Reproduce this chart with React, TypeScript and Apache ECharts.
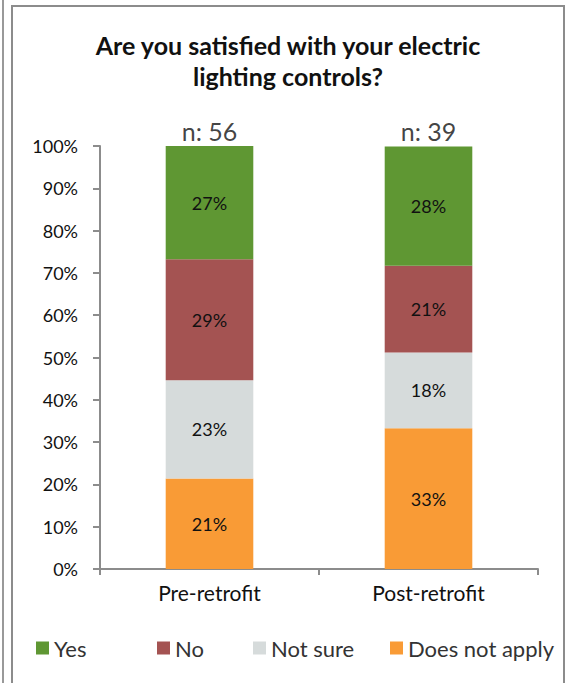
import React, { useEffect, useRef } from "react";
import * as echarts from "echarts";

const categories = ["Pre-retrofit", "Post-retrofit"];
const sampleSizes = [56, 39];
const yesValues = [26.8, 28.2];
const noValues = [28.6, 20.5];
const notSureValues = [23.2, 17.9];
const doesNotApplyValues = [21.4, 33.3];
const yTicks = [0, 10, 20, 30, 40, 50, 60, 70, 80, 90, 100];

const FONT = "Lato, 'Open Sans', sans-serif";

export default function App() {
  const ref = useRef<HTMLDivElement>(null);
  useEffect(() => {
    if (!ref.current) return;
    const chart = echarts.init(ref.current, undefined, { renderer: "svg" });
    const label = {
      show: true,
      position: "inside" as const,
      color: "#111",
      fontSize: 18,
      fontFamily: FONT,
      formatter: (p: any) => Math.round(p.value) + "%",
    };
    const mkBar = (name: string, data: number[], color: string) => ({
      name,
      type: "bar" as const,
      stack: "total",
      data,
      barWidth: "40%",
      itemStyle: { color },
      label,
      emphasis: { disabled: true },
    });
    const legendBase = {
      top: 637,
      padding: 0,
      icon: "rect",
      itemWidth: 13,
      itemHeight: 13,
      itemGap: 4,
      textStyle: { fontSize: 22, fontFamily: FONT, color: "#333" },
      selectedMode: false,
    };
    chart.setOption({
      animation: false,
      backgroundColor: "#fff",
      textStyle: { fontFamily: FONT },
      title: {
        text: "Are you satisfied with your electric\nlighting controls?",
        left: 288,
        textAlign: "center",
        top: 29,
        padding: 0,
        textStyle: {
          fontSize: 25,
          fontWeight: "bold",
          fontFamily: FONT,
          color: "#111",
          lineHeight: 31,
        },
      },
      graphic: [
        {
          type: "line",
          shape: { x1: 3, y1: 0, x2: 3, y2: 690 },
          style: { stroke: "#999", lineWidth: 2 },
        },
        {
          type: "rect",
          shape: { x: 12, y: 6, width: 552, height: 700 },
          style: { stroke: "#8c8c8c", lineWidth: 2, fill: "none" },
        },
      ],
      legend: [
        { ...legendBase, left: 36, data: ["Yes"] },
        { ...legendBase, left: 157, data: ["No"] },
        { ...legendBase, left: 253, data: ["Not sure"] },
        { ...legendBase, left: 390, data: ["Does not apply"] },
      ],
      grid: { left: 100, right: 29, top: 146, bottom: 114, containLabel: false },
      xAxis: {
        type: "category",
        data: categories,
        axisLine: { lineStyle: { color: "#8c8c8c", width: 2 } },
        axisTick: { show: true, length: 6, lineStyle: { color: "#8c8c8c", width: 2 } },
        axisLabel: { fontSize: 21, fontFamily: FONT, color: "#111", margin: 13 },
      },
      yAxis: {
        type: "value",
        min: yTicks[0],
        max: yTicks[yTicks.length - 1],
        interval: 10,
        splitLine: { show: false },
        axisLine: { show: true, lineStyle: { color: "#8c8c8c", width: 2 } },
        axisTick: { show: true, length: 7, lineStyle: { color: "#8c8c8c", width: 2 } },
        axisLabel: {
          fontSize: 18,
          fontFamily: FONT,
          color: "#111",
          margin: 22,
          formatter: (v: number) => v + "%",
        },
      },
      series: [
        mkBar("Does not apply", doesNotApplyValues, "#F99B36"),
        mkBar("Not sure", notSureValues, "#D6DBDB"),
        mkBar("No", noValues, "#A45352"),
        mkBar("Yes", yesValues, "#5F9733"),
        {
          name: "n",
          type: "scatter",
          data: categories.map(() => 100),
          symbolSize: 0,
          silent: true,
          label: {
            show: true,
            position: "top",
            distance: 3,
            fontSize: 25,
            fontFamily: FONT,
            color: "#111",
            formatter: (p: any) => "n: " + sampleSizes[p.dataIndex],
          },
        },
      ],
    });
    return () => chart.dispose();
  }, []);
  return (
    <div
      ref={ref}
      style={{ position: "absolute", left: 0, top: 0, width: 567, height: 683 }}
    />
  );
}
